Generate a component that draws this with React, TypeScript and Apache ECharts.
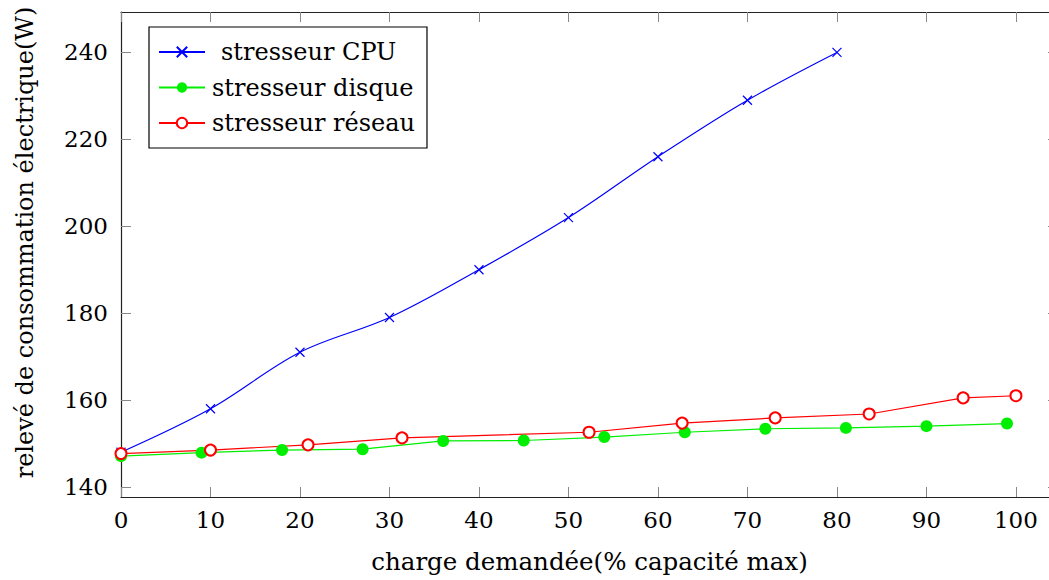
import React, { useEffect, useRef } from "react";
import * as echarts from "echarts";

const cpuX = [0, 10, 20, 30, 40, 50, 60, 70, 80];
const cpuY = [148, 158, 171, 179, 190, 202, 216, 229, 240];
const diskX = [0, 9, 18, 27, 36, 45, 54, 63, 72, 81, 90, 99];
const diskY = [147.1, 147.9, 148.5, 148.7, 150.6, 150.7, 151.5, 152.6, 153.4, 153.6, 154.0, 154.6];
const netX = [0, 10, 20.9, 31.4, 52.3, 62.7, 73.1, 83.6, 94.1, 100];
const netY = [147.7, 148.5, 149.7, 151.3, 152.6, 154.7, 155.9, 156.8, 160.5, 161.0];
const xTicks = [0, 10, 20, 30, 40, 50, 60, 70, 80, 90, 100];
const yTicks = [140, 160, 180, 200, 220, 240];

const names = ["stresseur CPU", "stresseur disque", "stresseur réseau"];
const FONT = "DejaVu Serif";

function zip(xs: number[], ys: number[]) {
  return xs.map((x, i) => [x, ys[i]]);
}

export default function App() {
  const ref = useRef<HTMLDivElement>(null);
  useEffect(() => {
    if (!ref.current) return;
    const chart = echarts.init(ref.current, null, { renderer: "svg" });
    const tickStyle = { color: "#888", width: 1 };
    const lineAxis = { show: true, lineStyle: { color: "#222", width: 1.2 } };
    const baseX = {
      type: "value" as const,
      min: 0,
      max: 104.7,
      splitLine: { show: false },
      axisLine: { ...lineAxis, onZero: false },
      axisTick: { show: true, inside: true, length: 10, lineStyle: tickStyle, customValues: xTicks },
    };
    const baseY = {
      type: "value" as const,
      min: 137.7,
      max: 249.3,
      splitLine: { show: false },
      axisLine: { ...lineAxis, onZero: false },
      axisTick: { show: true, inside: true, length: 10, lineStyle: tickStyle, customValues: yTicks },
    };
    chart.setOption({
      animation: false,
      backgroundColor: "#fff",
      textStyle: { fontFamily: FONT },
      grid: { left: 121, top: 12, bottom: 83, right: 12 },
      xAxis: [
        {
          ...baseX,
          position: "bottom",
          name: "charge demandée(% capacité max)",
          nameLocation: "middle",
          nameGap: 52,
          nameTextStyle: { fontFamily: FONT, fontSize: 24.5, color: "#000" },
          axisLabel: { customValues: xTicks, fontFamily: FONT, fontSize: 23, color: "#000", margin: 11 },
        },
        { ...baseX, position: "top", axisLabel: { show: false } },
      ],
      yAxis: [
        {
          ...baseY,
          position: "left",
          name: "relevé de consommation électrique(W)",
          nameLocation: "middle",
          nameRotate: 90,
          nameGap: 84,
          nameTextStyle: { fontFamily: FONT, fontSize: 24, color: "#000", padding: [0, 0, 0, 24] },
          axisLabel: { customValues: yTicks, fontFamily: FONT, fontSize: 23, color: "#000", margin: 13 },
        },
        { ...baseY, position: "right", axisLine: { show: false, onZero: false }, axisLabel: { show: false } },
      ],
      legend: {
        orient: "vertical",
        left: 149,
        top: 27,
        backgroundColor: "#fff",
        borderColor: "#000",
        borderWidth: 1.2,
        borderRadius: 0,
        padding: [11, 12, 11, 9],
        itemGap: 7.5,
        itemWidth: 46,
        itemHeight: 13,
        textStyle: { fontFamily: FONT, fontSize: 24, color: "#000", padding: [0, 0, 0, 2], lineHeight: 28 },
        data: [
          { name: names[0], textStyle: { padding: [0, 0, 0, 11] } },
          { name: names[1] },
          { name: names[2] },
        ],
      },
      series: [
        {
          name: names[0],
          type: "line",
          data: zip(cpuX, cpuY),
          smooth: 0.35,
          symbol: "path://M0,0L10,10M10,0L0,10",
          symbolSize: 9,
          color: "#0000ff",
          lineStyle: { color: "#0000ff", width: 1.2 },
          itemStyle: { color: "#0000ff", borderColor: "#0000ff", borderWidth: 1.2 },
        },
        {
          name: names[1],
          type: "line",
          data: zip(diskX, diskY),
          symbol: "circle",
          symbolSize: 12,
          color: "#00ee00",
          lineStyle: { color: "#00ee00", width: 1.2 },
          itemStyle: { color: "#00ee00", borderWidth: 0 },
        },
        {
          name: names[2],
          type: "line",
          data: zip(netX, netY),
          symbol: "emptyCircle",
          symbolSize: 11,
          color: "#ff0000",
          lineStyle: { color: "#ff0000", width: 1.2 },
          itemStyle: { color: "#ff0000", borderColor: "#ff0000", borderWidth: 1.2 },
        },
      ],
    });
    return () => chart.dispose();
  }, []);
  return (
    <div style={{ position: "fixed", left: 0, top: 0, width: 1049, height: 580, overflow: "hidden" }}>
      <div ref={ref} style={{ width: 1070, height: 580 }} />
    </div>
  );
}
